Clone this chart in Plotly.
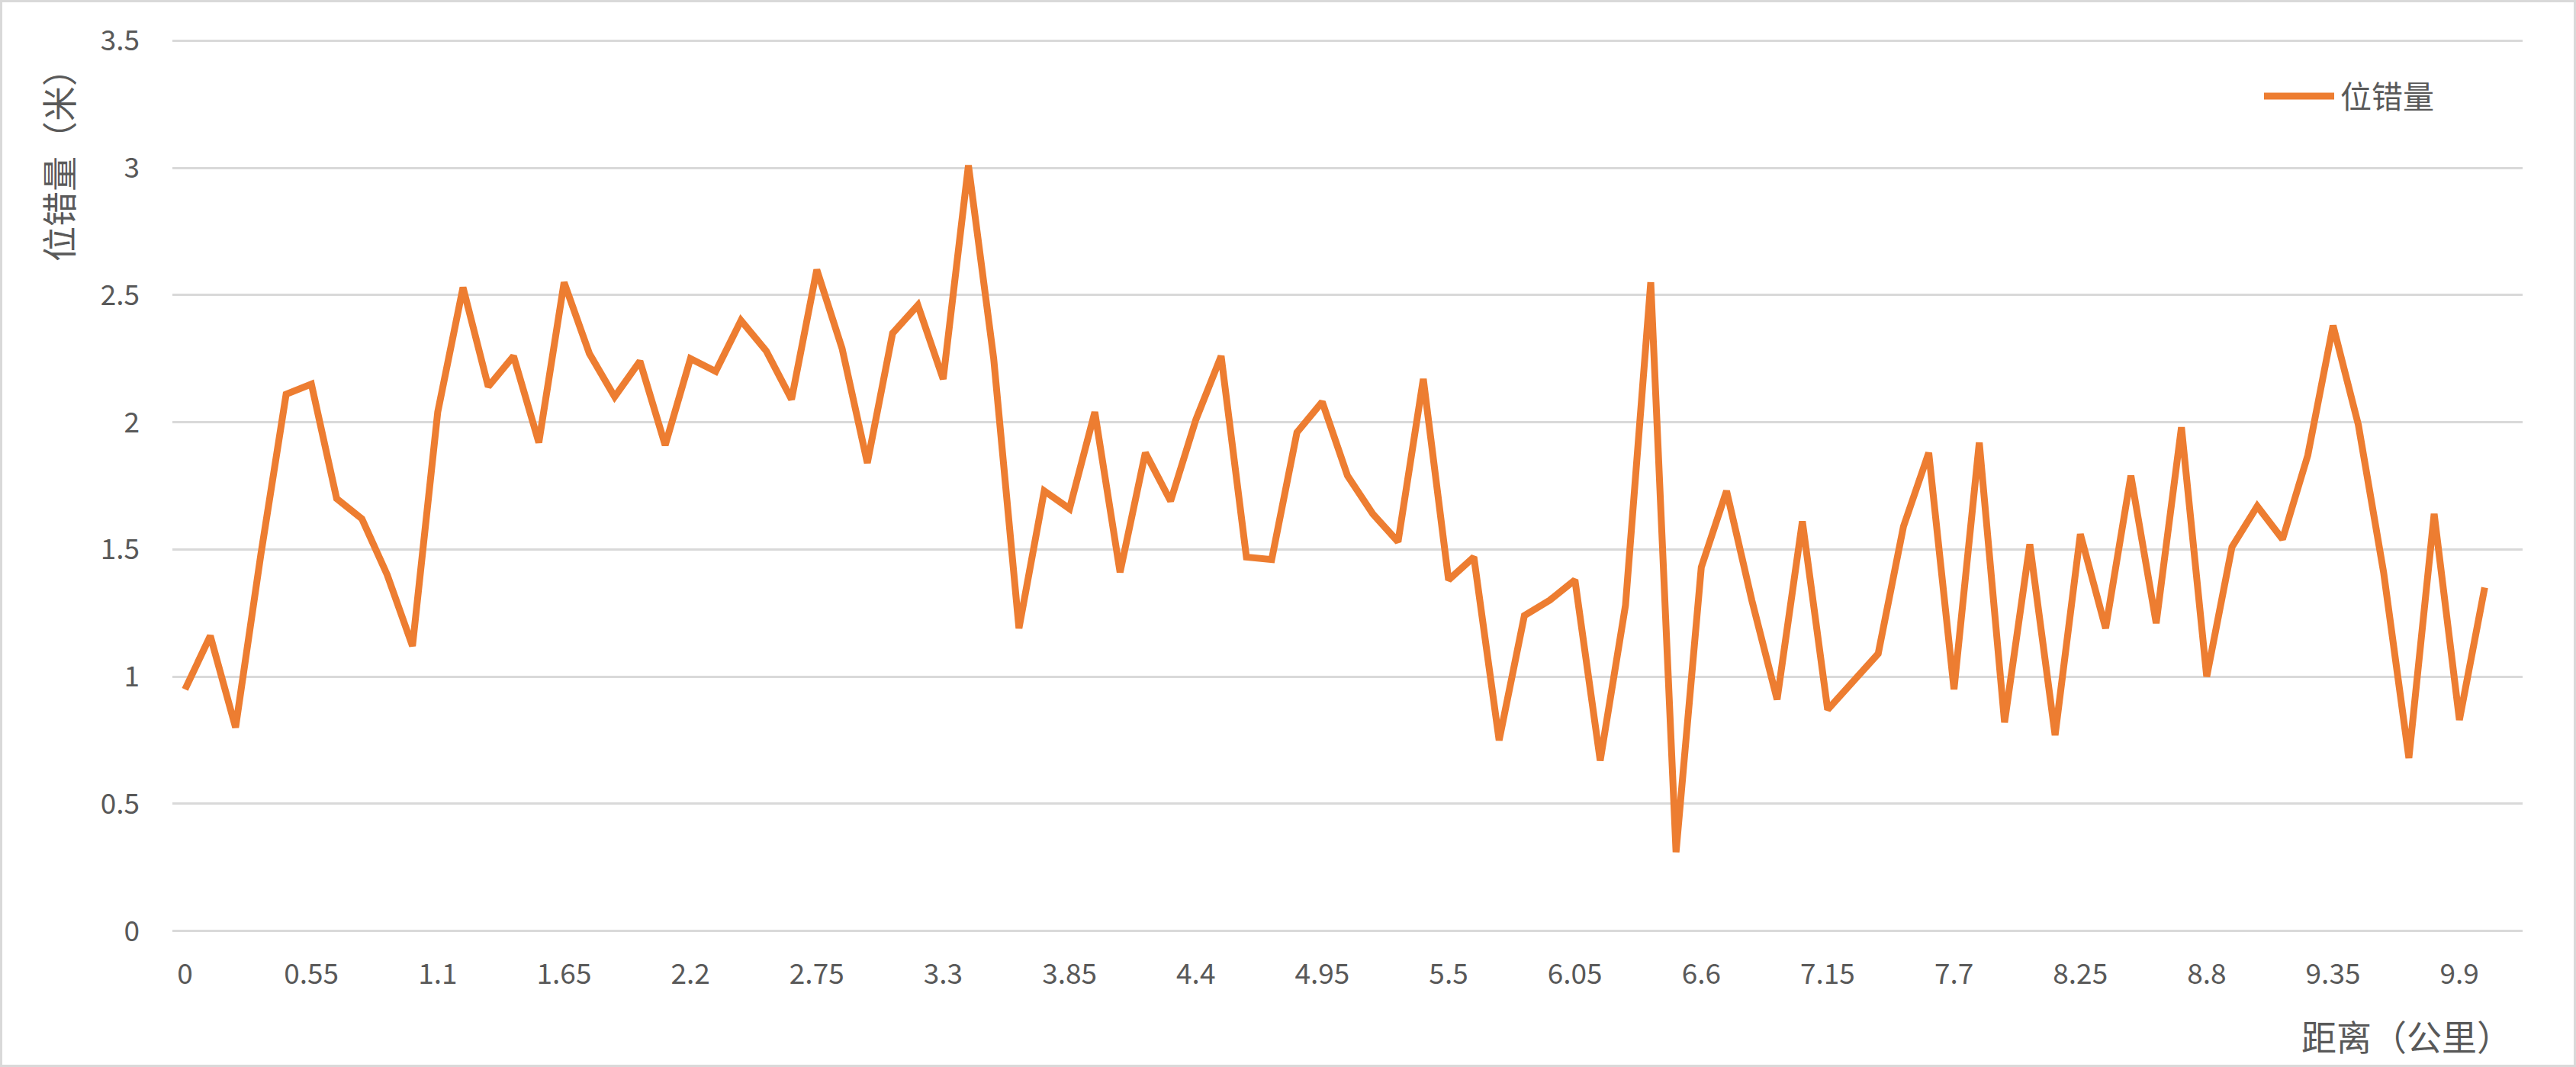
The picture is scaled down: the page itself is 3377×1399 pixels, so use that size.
import plotly.graph_objects as go

# Categories: distance (km)
distance = [
    "0", "0.11", "0.22", "0.33", "0.44", "0.55", "0.66", "0.77", "0.88", "0.99",
    "1.1", "1.21", "1.32", "1.43", "1.54", "1.65", "1.76", "1.87", "1.98", "2.09",
    "2.2", "2.31", "2.42", "2.53", "2.64", "2.75", "2.86", "2.97", "3.08", "3.19",
    "3.3", "3.41", "3.52", "3.63", "3.74", "3.85", "3.96", "4.07", "4.18", "4.29",
    "4.4", "4.51", "4.62", "4.73", "4.84", "4.95", "5.06", "5.17", "5.28", "5.39",
    "5.5", "5.61", "5.72", "5.83", "5.94", "6.05", "6.16", "6.27", "6.38", "6.49",
    "6.6", "6.71", "6.82", "6.93", "7.04", "7.15", "7.26", "7.37", "7.48", "7.59",
    "7.7", "7.81", "7.92", "8.03", "8.14", "8.25", "8.36", "8.47", "8.58", "8.69",
    "8.8", "8.91", "9.02", "9.13", "9.24", "9.35", "9.46", "9.57", "9.68", "9.79",
    "9.9", "10.01",
]

# Series: offset (m)
offset = [
    0.95, 1.16, 0.80, 1.48, 2.11, 2.15, 1.70, 1.62, 1.40, 1.12,
    2.04, 2.53, 2.14, 2.26, 1.92, 2.55, 2.27, 2.10, 2.24, 1.91,
    2.25, 2.20, 2.40, 2.28, 2.09, 2.60, 2.29, 1.84, 2.35, 2.46,
    2.17, 3.01, 2.25, 1.19, 1.73, 1.66, 2.04, 1.41, 1.88, 1.69,
    2.01, 2.26, 1.47, 1.46, 1.96, 2.08, 1.79, 1.64, 1.53, 2.17,
    1.38, 1.47, 0.75, 1.24, 1.30, 1.38, 0.67, 1.28, 2.55, 0.31,
    1.43, 1.73, 1.30, 0.91, 1.61, 0.87, 0.98, 1.09, 1.59, 1.88,
    0.95, 1.92, 0.82, 1.52, 0.77, 1.56, 1.19, 1.79, 1.21, 1.98,
    1.00, 1.51, 1.67, 1.54, 1.87, 2.38, 1.99, 1.41, 0.68, 1.64,
    0.83, 1.35,
]

x_tick_labels = distance[::5]
y_ticks = [0, 0.5, 1, 1.5, 2, 2.5, 3, 3.5]

series_name = "位错量"
y_title = "位错量（米）"
x_title = "距离（公里）"

LINE_COLOR = "#ED7D31"
TEXT_COLOR = "#595959"
GRID_COLOR = "#D9D9D9"
FONT = "Noto Sans CJK SC"

W, H = 3377, 1399
L, R, T, B = 226, 70, 52, 177
PW, PH = W - L - R, H - T - B


def px_x(p):
    return (p - L) / PW


def px_y(p):
    return (H - B - p) / PH


fig = go.Figure()
fig.add_trace(go.Scatter(
    x=distance, y=offset, mode="lines", name=series_name,
    line=dict(color=LINE_COLOR, width=9),
    showlegend=False,
))

fig.update_layout(
    width=W, height=H,
    margin=dict(l=L, r=R, t=T, b=B),
    paper_bgcolor="white", plot_bgcolor="white",
    font=dict(family=FONT, color=TEXT_COLOR, size=36),
    xaxis=dict(
        type="category", range=[-0.5, len(distance) + 0.5],
        tickmode="array", tickvals=x_tick_labels, ticktext=x_tick_labels,
        showgrid=False, showline=False, zeroline=False,
        ticks="", ticklabelstandoff=30,
        tickfont=dict(size=37, color=TEXT_COLOR, family=FONT),
    ),
    yaxis=dict(
        range=[-0.004, 3.504], tickmode="array", tickvals=y_ticks,
        showgrid=True, gridcolor=GRID_COLOR, gridwidth=3,
        zeroline=False, showline=False, ticks="",
        ticklabelstandoff=42,
        tickfont=dict(size=37, color=TEXT_COLOR, family=FONT),
    ),
    annotations=[
        dict(text=y_title, xref="paper", yref="paper",
             x=px_x(75), y=px_y(205), xanchor="center", yanchor="middle",
             textangle=-90, showarrow=False,
             font=dict(size=46, color=TEXT_COLOR, family=FONT)),
        dict(text=x_title, xref="paper", yref="paper",
             x=px_x(3295), y=px_y(1357), xanchor="right", yanchor="middle",
             showarrow=False,
             font=dict(size=46, color=TEXT_COLOR, family=FONT)),
        dict(text=series_name, xref="paper", yref="paper",
             x=px_x(3066), y=px_y(124), xanchor="left", yanchor="middle",
             showarrow=False,
             font=dict(size=41, color=TEXT_COLOR, family=FONT)),
    ],
    shapes=[
        dict(type="line", xref="paper", yref="paper",
             x0=px_x(2968), x1=px_x(3060), y0=px_y(126), y1=px_y(126),
             line=dict(color=LINE_COLOR, width=9)),
        dict(type="rect", xref="paper", yref="paper",
             x0=px_x(1.5), x1=px_x(W - 1.5), y0=px_y(H - 1.5), y1=px_y(1.5),
             line=dict(color=GRID_COLOR, width=3), layer="below"),
    ],
)

fig.write_html(
    "out.html",
    config={"displayModeBar": False},
    post_script="document.body.style.margin='0';document.body.style.overflow='hidden';",
)
